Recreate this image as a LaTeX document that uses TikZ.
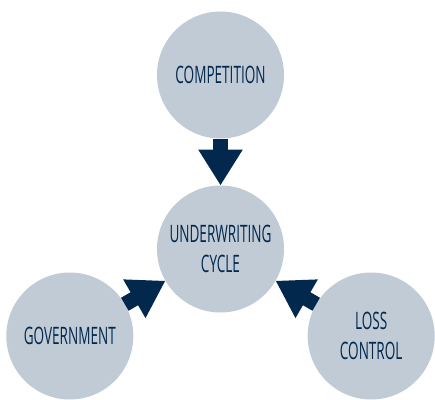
\documentclass[tikz,border=0pt]{standalone}
\usepackage{fontspec}
\setmainfont{Open Sans}[FakeStretch=0.565]
\usetikzlibrary{arrows.meta}

\definecolor{circlefill}{RGB}{192,203,213}
\definecolor{navy}{RGB}{3,40,78}

\tikzset{
  factor/.style={circle, fill=circlefill, draw=none, minimum size=127pt,
    inner sep=0pt, outer sep=0pt, text=navy, align=center,
    font=\fontsize{24}{30}\selectfont},
  blockarrow/.style={navy, line width=15pt,
    -{Triangle[width=42pt,length=36pt]}}
}

\begin{document}
\begin{tikzpicture}[x=1pt,y=1pt]
    % Abstand zwischen den Kreismittelpunkten
    \def\gap{174}

    \useasboundingbox (-220.5,-150) rectangle (214.5,249);

    % Kreise
    \node[factor] (uw) at (0,0) {UNDERWRITING\\CYCLE};
    \node[factor] (comp) at (90:\gap) {COMPETITION};
    \node[factor] (gov) at (210:\gap) {GOVERNMENT};
    \node[factor] (loss) at (330:\gap) {LOSS\\CONTROL};

    % Pfeile zur Mitte
    \foreach \src in {comp, gov, loss}
        \draw[blockarrow] (\src) -- (uw);
\end{tikzpicture}
\end{document}
